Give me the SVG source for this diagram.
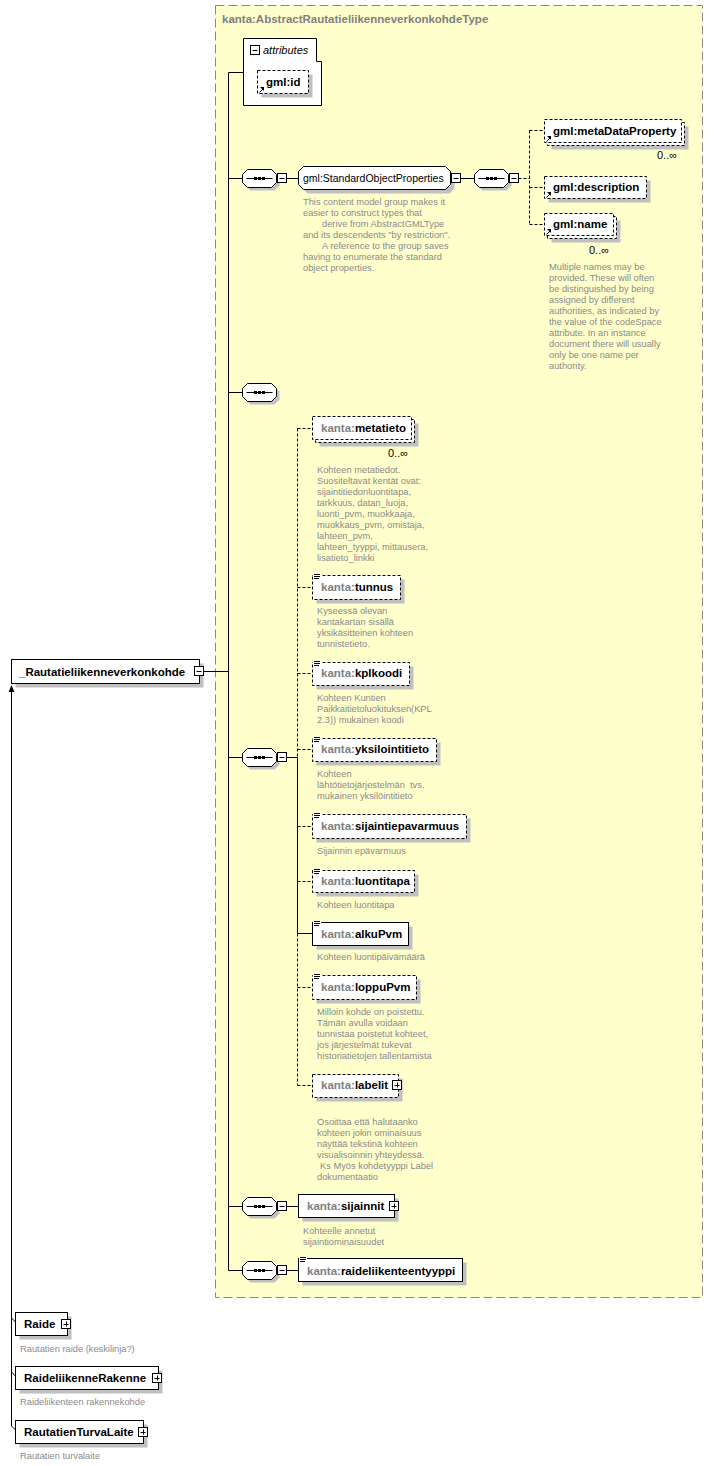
<svg xmlns="http://www.w3.org/2000/svg" width="714" height="1466" viewBox="0 0 714 1466">
<style>
.bx{fill:#fff;stroke:#000;stroke-width:1}
.dsh{stroke-dasharray:3,2}
.sh{fill:#c0c0c0}
.ln{stroke:#000;stroke-width:1;fill:none}
.dl{stroke:#000;stroke-width:1;fill:none;stroke-dasharray:3,2}
text{font-family:"Liberation Sans",Arial,sans-serif}
.lb{font-size:11.5px;font-weight:bold;fill:#000}
.pf{fill:#808080}
.rg{font-size:11px;fill:#000}
.grp{font-size:10.5px;fill:#000}
.doc{font-size:9.3px;fill:#8a8a8a}
.ttl{font-size:11.5px;font-weight:bold;fill:#808080}
</style>
<defs>
<g id="seq">
<polygon class="sh" points="8,3 32,3 37,8 37,16 32,21 8,21 3,16 3,8"/>
<polygon class="bx" points="5,0 29,0 34,5 34,13 29,18 5,18 0,13 0,5"/>
<line class="ln" x1="4" y1="9" x2="30" y2="9"/>
<rect x="11.5" y="7.5" width="3" height="3"/>
<rect x="15.5" y="7.5" width="3" height="3"/>
<rect x="19.5" y="7.5" width="3" height="3"/>
</g>
<g id="mn"><rect class="bx" x="0" y="0" width="9" height="9"/><line class="ln" x1="2" y1="5" x2="7" y2="5"/></g>
<g id="pl"><rect class="bx" x="0" y="0" width="9" height="9"/><line class="ln" x1="2" y1="5" x2="7" y2="5"/><line class="ln" x1="5" y1="2" x2="5" y2="7"/></g>
<g id="sim"><rect x="0" y="0" width="8" height="5" fill="#fff"/><path class="ln" d="M1,0.5H7M1,2.5H7M1,4.5H6"/></g>
<g id="ar"><path class="ln" d="M1.5,6.5L5,3"/><polygon points="2,1 6,1 6,5"/></g>
</defs>

<!-- type container -->
<rect x="215.5" y="5.5" width="487" height="1292" fill="#ffffcc" stroke="#888" stroke-dasharray="9,4"/>
<text class="ttl" x="222" y="23">kanta:AbstractRautatieliikenneverkonkohdeType</text>

<!-- connectors -->
<g id="connectors">
<path class="ln" d="M203.5,671.5H228.5"/>
<path class="ln" d="M228.5,72.5V1270.5"/>
<path class="ln" d="M228.5,72.5H243.5"/>
<path class="ln" d="M228.5,178.5H242.5M286.5,178.5H298.5M460.5,178.5H474.5"/>
<path class="dl" d="M518.5,178.5H529.5M529.5,130.5V224.5M529.5,130.5H544.5M529.5,187.5H544.5M529.5,224.5H544.5"/>
<path class="ln" d="M228.5,392.5H242.5"/>
<path class="ln" d="M228.5,757.5H242.5M286.5,757.5H297.5"/>
<path class="dl" d="M297.5,428.5V757.5"/>
<path class="ln" d="M297.5,757.5V933.5"/>
<path class="dl" d="M297.5,933.5V1085.5"/>
<path class="dl" d="M297.5,428.5H312.5M297.5,587.5H312.5M297.5,673.5H312.5M297.5,749.5H312.5M297.5,826.5H312.5M297.5,881.5H312.5M297.5,987.5H312.5M297.5,1085.5H312.5"/>
<path class="ln" d="M297.5,933.5H312.5"/>
<path class="ln" d="M228.5,1206.5H242.5M286.5,1206.5H298.5"/>
<path class="ln" d="M228.5,1270.5H242.5M286.5,1270.5H298.5"/>
<path class="ln" d="M11.5,690V1426M11.5,1318L15.5,1322M11.5,1372L15.5,1376M11.5,1426L15.5,1430"/>
<polygon points="11.5,685 8.5,692 14.5,692"/>
</g>

<!-- attributes -->
<g id="attributes">
<path class="bx" d="M243.5,38.5H316.5V61.5H321.5V105.5H243.5Z"/>
<use href="#mn" x="250.5" y="45.5"/>
<text x="263" y="54" font-size="11" font-style="italic">attributes</text>
</g>
<g id="gml-id">
<rect class="sh" x="261.5" y="74.5" width="51" height="23"/>
<rect class="bx dsh" x="257.5" y="70.5" width="51" height="23"/>
<use href="#ar" x="258" y="86"/>
<text class="lb" x="266" y="86">gml:id</text>
</g>

<!-- sequences -->
<g id="seq1"><use href="#seq" x="242.5" y="169.5"/><use href="#mn" x="277.5" y="173.5"/></g>
<g id="seq-sop"><use href="#seq" x="474.5" y="169.5"/><use href="#mn" x="509.5" y="173.5"/></g>
<g id="seq2"><use href="#seq" x="242.5" y="383.5"/></g>
<g id="seq3"><use href="#seq" x="242.5" y="748.5"/><use href="#mn" x="277.5" y="752.5"/></g>
<g id="seq4"><use href="#seq" x="242.5" y="1197.5"/><use href="#mn" x="277.5" y="1201.5"/></g>
<g id="seq5"><use href="#seq" x="242.5" y="1261.5"/><use href="#mn" x="277.5" y="1265.5"/></g>

<!-- StandardObjectProperties group -->
<g id="sop">
<polygon class="sh" points="307.5,170.5 449.5,170.5 454.5,175.5 454.5,188.5 449.5,193.5 307.5,193.5 302.5,188.5 302.5,175.5"/>
<polygon class="bx" points="303.5,166.5 445.5,166.5 450.5,171.5 450.5,184.5 445.5,189.5 303.5,189.5 298.5,184.5 298.5,171.5"/>
<use href="#mn" x="451.5" y="173.5"/>
<text class="grp" x="303" y="182">gml:StandardObjectProperties</text>
<text class="doc"><tspan x="303" y="205">This content model group makes it</tspan><tspan x="303" y="216">easier to construct types that</tspan><tspan x="322" y="227">derive from AbstractGMLType</tspan><tspan x="303" y="238">and its descendents "by restriction".</tspan><tspan x="322" y="249">A reference to the group saves</tspan><tspan x="303" y="260">having to enumerate the standard</tspan><tspan x="303" y="271">object properties.</tspan></text>
</g>

<g id="metaDataProperty">
<rect class="sh" x="551.5" y="126.5" width="137" height="23"/>
<rect class="bx dsh" x="547.5" y="122.5" width="137" height="23"/>
<rect class="bx dsh" x="544.5" y="119.5" width="137" height="23"/>
<use href="#ar" x="545" y="135"/>
<text class="lb" x="553" y="135">gml:metaDataProperty</text>
<text class="rg" x="657" y="159">0..∞</text>
</g>
<g id="description">
<rect class="sh" x="548.5" y="180.5" width="102" height="22"/>
<rect class="bx dsh" x="544.5" y="176.5" width="102" height="22"/>
<use href="#ar" x="545" y="191"/>
<text class="lb" x="553" y="191">gml:description</text>
</g>
<g id="name">
<rect class="sh" x="551.5" y="220.5" width="69" height="22"/>
<rect class="bx dsh" x="547.5" y="216.5" width="69" height="22"/>
<rect class="bx dsh" x="544.5" y="213.5" width="69" height="22"/>
<use href="#ar" x="545" y="228"/>
<text class="lb" x="553" y="228">gml:name</text>
<text class="rg" x="589" y="254">0..∞</text>
<text class="doc"><tspan x="549" y="270">Multiple names may be</tspan><tspan x="549" y="281">provided.  These will often</tspan><tspan x="549" y="292">be distinguished by being</tspan><tspan x="549" y="303">assigned by different</tspan><tspan x="549" y="314">authorities, as indicated by</tspan><tspan x="549" y="325">the value of the codeSpace</tspan><tspan x="549" y="336">attribute.  In an instance</tspan><tspan x="549" y="347">document there will usually</tspan><tspan x="549" y="358">only be one name per</tspan><tspan x="549" y="369">authority.</tspan></text>
</g>

<!-- sequence 3 children -->
<g id="metatieto">
<rect class="sh" x="319.5" y="423.5" width="99" height="23"/>
<rect class="bx dsh" x="315.5" y="419.5" width="99" height="23"/>
<rect class="bx dsh" x="312.5" y="416.5" width="99" height="23"/>
<text class="lb" x="321" y="432"><tspan class="pf">kanta:</tspan>metatieto</text>
<text class="rg" x="388" y="457">0..∞</text>
<text class="doc"><tspan x="317" y="473">Kohteen metatiedot.</tspan><tspan x="317" y="484">Suositeltavat kentät ovat:</tspan><tspan x="317" y="495">sijaintitiedonluontitapa,</tspan><tspan x="317" y="506">tarkkuus, datan_luoja,</tspan><tspan x="317" y="517">luonti_pvm, muokkaaja,</tspan><tspan x="317" y="528">muokkaus_pvm, omistaja,</tspan><tspan x="317" y="539">lahteen_pvm,</tspan><tspan x="317" y="550">lahteen_tyyppi, mittausera,</tspan><tspan x="317" y="561">lisatieto_linkki</tspan></text>
</g>
<g id="tunnus">
<rect class="sh" x="316.5" y="579.5" width="88" height="24"/>
<rect class="bx dsh" x="312.5" y="575.5" width="88" height="24"/>
<use href="#sim" x="313" y="574"/>
<text class="lb" x="321" y="591"><tspan class="pf">kanta:</tspan>tunnus</text>
<text class="doc"><tspan x="317" y="614">Kyseessä olevan</tspan><tspan x="317" y="625">kantakartan sisällä</tspan><tspan x="317" y="636">yksikäsitteinen kohteen</tspan><tspan x="317" y="647">tunnistetieto.</tspan></text>
</g>
<g id="kplkoodi">
<rect class="sh" x="316.5" y="666.5" width="97" height="23"/>
<rect class="bx dsh" x="312.5" y="662.5" width="97" height="23"/>
<use href="#sim" x="313" y="661"/>
<text class="lb" x="321" y="677"><tspan class="pf">kanta:</tspan>kplkoodi</text>
<text class="doc"><tspan x="317" y="701">Kohteen Kuntien</tspan><tspan x="317" y="712">Paikkaitietoluokituksen(KPL</tspan><tspan x="317" y="723">2.3)) mukainen koodi</tspan></text>
</g>
<g id="yksilointitieto">
<rect class="sh" x="316.5" y="742.5" width="124" height="23"/>
<rect class="bx dsh" x="312.5" y="738.5" width="124" height="23"/>
<use href="#sim" x="313" y="737"/>
<text class="lb" x="321" y="753"><tspan class="pf">kanta:</tspan>yksilointitieto</text>
<text class="doc"><tspan x="317" y="777">Kohteen</tspan><tspan x="317" y="788">lähtötietojärjestelmän&#160; tvs.</tspan><tspan x="317" y="799">mukainen yksilöintitieto</tspan></text>
</g>
<g id="sijaintiepavarmuus">
<rect class="sh" x="316.5" y="818.5" width="154" height="24"/>
<rect class="bx dsh" x="312.5" y="814.5" width="154" height="24"/>
<use href="#sim" x="313" y="813"/>
<text class="lb" x="321" y="830"><tspan class="pf">kanta:</tspan>sijaintiepavarmuus</text>
<text class="doc" x="317" y="854">Sijainnin epävarmuus</text>
</g>
<g id="luontitapa">
<rect class="sh" x="316.5" y="874.5" width="102" height="22"/>
<rect class="bx dsh" x="312.5" y="870.5" width="102" height="22"/>
<use href="#sim" x="313" y="869"/>
<text class="lb" x="321" y="885"><tspan class="pf">kanta:</tspan>luontitapa</text>
<text class="doc" x="317" y="908">Kohteen luontitapa</text>
</g>
<g id="alkuPvm">
<rect class="sh" x="316.5" y="926.5" width="96" height="23"/>
<rect class="bx" x="312.5" y="922.5" width="96" height="23"/>
<use href="#sim" x="313" y="921"/>
<text class="lb" x="321" y="938"><tspan class="pf">kanta:</tspan>alkuPvm</text>
<text class="doc" x="317" y="960">Kohteen luontipäivämäärä</text>
</g>
<g id="loppuPvm">
<rect class="sh" x="316.5" y="979.5" width="104" height="24"/>
<rect class="bx dsh" x="312.5" y="975.5" width="104" height="24"/>
<use href="#sim" x="313" y="974"/>
<text class="lb" x="321" y="991"><tspan class="pf">kanta:</tspan>loppuPvm</text>
<text class="doc"><tspan x="317" y="1015">Milloin kohde on poistettu.</tspan><tspan x="317" y="1026">Tämän avulla voidaan</tspan><tspan x="317" y="1037">tunnistaa poistetut kohteet,</tspan><tspan x="317" y="1048">jos järjestelmät tukevat</tspan><tspan x="317" y="1059">historiatietojen tallentamista</tspan></text>
</g>
<g id="labelit">
<rect class="sh" x="316.5" y="1078.5" width="86" height="23"/>
<rect class="bx dsh" x="312.5" y="1074.5" width="86" height="23"/>
<use href="#pl" x="392.5" y="1080.5"/>
<text class="lb" x="321" y="1089"><tspan class="pf">kanta:</tspan>labelit</text>
<text class="doc"><tspan x="317" y="1125">Osoittaa että halutaanko</tspan><tspan x="317" y="1136">kohteen jokin ominaisuus</tspan><tspan x="317" y="1147">näyttää tekstinä kohteen</tspan><tspan x="317" y="1158">visualisoinnin yhteydessä.</tspan><tspan x="320" y="1169">Ks Myös kohdetyyppi Label</tspan><tspan x="317" y="1180">dokumentaatio</tspan></text>
</g>

<g id="sijainnit">
<rect class="sh" x="302.5" y="1198.5" width="96" height="23"/>
<rect class="bx" x="298.5" y="1194.5" width="96" height="23"/>
<use href="#pl" x="389.5" y="1201.5"/>
<text class="lb" x="307" y="1210"><tspan class="pf">kanta:</tspan>sijainnit</text>
<text class="doc"><tspan x="303" y="1234">Kohteelle annetut</tspan><tspan x="303" y="1245">sijaintiominaisuudet</tspan></text>
</g>
<g id="raideliikenteentyyppi">
<rect class="sh" x="302.5" y="1262.5" width="164" height="23"/>
<rect class="bx" x="298.5" y="1258.5" width="164" height="23"/>
<use href="#sim" x="299" y="1257"/>
<text class="lb" x="307" y="1275"><tspan class="pf">kanta:</tspan>raideliikenteentyyppi</text>
</g>

<!-- main element -->
<g id="Rautatieliikenneverkonkohde">
<rect class="sh" x="15.5" y="663.5" width="188" height="24"/>
<rect class="bx" x="11.5" y="659.5" width="188" height="24"/>
<use href="#mn" x="194.5" y="666.5"/>
<text class="lb" x="19" y="676">_Rautatieliikenneverkonkohde</text>
</g>

<!-- derived types -->
<g id="Raide">
<rect class="sh" x="19.5" y="1316.5" width="52" height="23"/>
<rect class="bx" x="15.5" y="1312.5" width="52" height="23"/>
<use href="#pl" x="61.5" y="1319.5"/>
<text class="lb" x="24" y="1328">Raide</text>
<text class="doc" x="20" y="1352">Rautatien raide (keskilinja?)</text>
</g>
<g id="RaideliikenneRakenne">
<rect class="sh" x="19.5" y="1370.5" width="143" height="23"/>
<rect class="bx" x="15.5" y="1366.5" width="143" height="23"/>
<use href="#pl" x="152.5" y="1373.5"/>
<text class="lb" x="24" y="1382">RaideliikenneRakenne</text>
<text class="doc" x="20" y="1405">Raideliikenteen rakennekohde</text>
</g>
<g id="RautatienTurvaLaite">
<rect class="sh" x="19.5" y="1424.5" width="128" height="23"/>
<rect class="bx" x="15.5" y="1420.5" width="128" height="23"/>
<use href="#pl" x="138.5" y="1427.5"/>
<text class="lb" x="24" y="1436">RautatienTurvaLaite</text>
<text class="doc" x="20" y="1459">Rautatien turvalaite</text>
</g>
</svg>
